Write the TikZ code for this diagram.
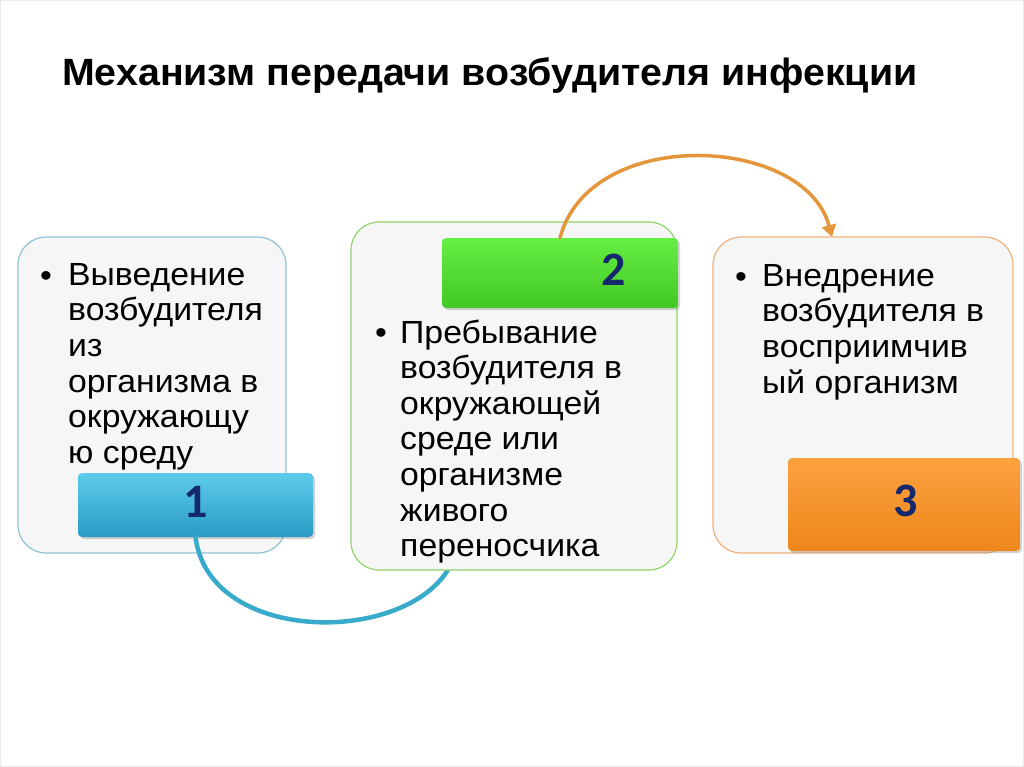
\documentclass[tikz,border=0pt]{standalone}
\usepackage{fontspec}
\setmainfont{Liberation Sans}[FakeStretch=1.055]
\newfontfamily\titlefont{Liberation Sans}[FakeStretch=1.035]
\newfontfamily\numfont{Carlito}
\usetikzlibrary{shadows,arrows.meta}
\definecolor{boxfill}{HTML}{F6F6F6}
\definecolor{bord1}{HTML}{8CC3D8}
\definecolor{bord2}{HTML}{8ED56A}
\definecolor{bord3}{HTML}{F1B27C}
\definecolor{b1top}{HTML}{5CCBEB}
\definecolor{b1bot}{HTML}{2B9BC5}
\definecolor{b2top}{HTML}{66EE44}
\definecolor{b2bot}{HTML}{42C823}
\definecolor{b3top}{HTML}{FBA23F}
\definecolor{b3bot}{HTML}{EE861B}
\definecolor{numcol}{HTML}{13296B}
\definecolor{bluearc}{HTML}{38AACC}
\definecolor{orangearc}{HTML}{E5953A}
\tikzset{
  mainbox/.style={draw, line width=1.2pt, fill=boxfill, rounded corners=28pt, inner sep=0pt},
  badge/.style={rounded corners=4pt, inner sep=0pt,
    drop shadow={opacity=0.35, shadow xshift=2pt, shadow yshift=-2pt}},
  numtext/.style={font=\numfont\bfseries\fontsize{48}{50}\selectfont, text=numcol, inner sep=0pt},
  bodytext/.style={font=\fontsize{32}{35.6}\selectfont, align=left, inner sep=0pt, anchor=north west},
  bul/.style={font=\fontsize{32}{35.6}\selectfont, inner sep=0pt, anchor=base},
  arc1/.style={draw=bluearc, line width=4.5pt, line cap=round, -{Triangle[length=12pt,width=14pt]}},
  arc2/.style={draw=orangearc, line width=3.5pt, line cap=round, -{Triangle[length=12pt,width=14pt]}}
}
\begin{document}
\begin{tikzpicture}[x=1pt,y=-1pt]
\useasboundingbox (0,0) rectangle (1024,767);
\fill[white] (0,0) rectangle (1024,767);
\draw[black!8] (0.5,0.5) rectangle (1023.5,766.5);

\node[font=\titlefont\fontsize{38}{40}\selectfont\bfseries, anchor=base west, inner sep=0pt] (title) at (62,86)
  {Механизм передачи возбудителя инфекции};

% box 1
\node[mainbox, draw=bord1, minimum width=268pt, minimum height=316pt] (box1) at (152,395) {};
\node[bul] (d1) at (46,286.7) {•};
\node[bodytext] (t1) at (68,263) {Выведение\\возбудителя\\из\\организма в\\окружающу\\ю среду};
\node[badge, top color=b1top, bottom color=b1bot, minimum width=235pt, minimum height=64pt] (badge1) at (195.5,505) {};
\node[numtext] (n1) at (196,502) {1};

% blue connector (its head ends hidden under box 2)
\coordinate (e1) at (458,545);
\draw[arc1] (badge1.south) .. controls (210,650) and (425,645) .. (e1);

% box 2
\node[mainbox, draw=bord2, minimum width=326pt, minimum height=348pt] (box2) at (514,396) {};
\node[bul] (d2) at (381,343) {•};
\node[bodytext] (t2) at (400,319.5) {Пребывание\\возбудителя в\\окружающей\\среде или\\организме\\живого\\переносчика};
\node[badge, top color=b2top, bottom color=b2bot, minimum width=236pt, minimum height=70pt] (badge2) at (560,273) {};
\node[numtext] (n2) at (614,270) {2};

% orange connector
\coordinate (e2) at (832,237);
\draw[arc2] (badge2.north) .. controls (590,125) and (805,135) .. (e2);

% box 3
\node[mainbox, draw=bord3, minimum width=300pt, minimum height=316pt] (box3) at (863,395) {};
\node[bul] (d3) at (741,287) {•};
\node[bodytext] (t3) at (762,264) {Внедрение\\возбудителя в\\восприимчив\\ый организм};
\node[badge, top color=b3top, bottom color=b3bot, minimum width=232pt, minimum height=93pt] (badge3) at (904,504.5) {};
\node[numtext] (n3) at (906,501) {3};
\end{tikzpicture}
\end{document}
